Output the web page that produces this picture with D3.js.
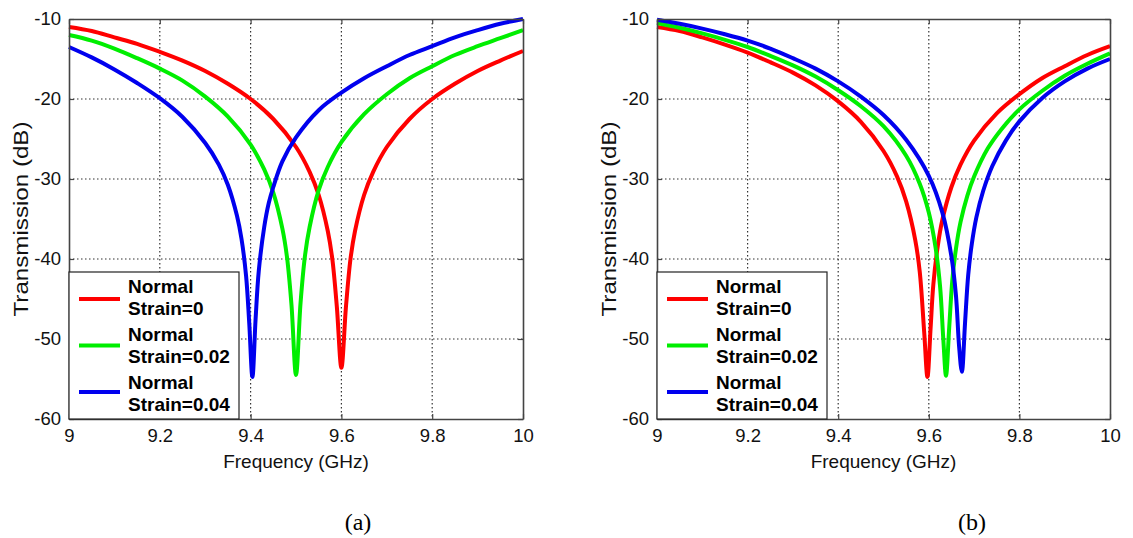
<!DOCTYPE html>
<html>
<head>
<meta charset="utf-8">
<script src="https://cdn.jsdelivr.net/npm/d3@7/dist/d3.min.js"></script>
<style>
  html, body { margin: 0; padding: 0; background: #fff; }
  svg { display: block; }
</style>
</head>
<body>
<svg id="chart" width="1133" height="538"></svg>
<script>
// ---------- data ----------
const xTicks = [9, 9.2, 9.4, 9.6, 9.8, 10];
const yTicks = [-10, -20, -30, -40, -50, -60];
const seriesNames = ["Normal\nStrain=0", "Normal\nStrain=0.02", "Normal\nStrain=0.04"];
const seriesColors = ["#ff0000", "#00ee00", "#0000ee"];
const panelLabels = ["(a)", "(b)"];

// panel (a)
const aRedF   = [9.0, 9.05, 9.1, 9.15, 9.2, 9.25, 9.3, 9.35, 9.4, 9.45, 9.5, 9.53, 9.55, 9.57, 9.58, 9.59, 9.6, 9.61, 9.62, 9.63, 9.65, 9.67, 9.7, 9.75, 9.8, 9.85, 9.9, 9.95, 10.0];
const aRedT   = [-11.0, -11.5, -12.3, -13.1, -14.1, -15.2, -16.5, -18.1, -20.0, -22.5, -26.0, -29.1, -32.0, -36.5, -40.0, -46.0, -53.6, -46.0, -40.0, -36.5, -32.0, -29.1, -26.0, -22.5, -20.0, -18.1, -16.5, -15.2, -14.0];
const aGreenF = [9.0, 9.05, 9.1, 9.15, 9.2, 9.25, 9.3, 9.35, 9.4, 9.43, 9.45, 9.47, 9.48, 9.49, 9.5, 9.51, 9.52, 9.53, 9.55, 9.57, 9.6, 9.65, 9.7, 9.75, 9.8, 9.85, 9.9, 9.95, 10.0];
const aGreenT = [-12.0, -12.7, -13.7, -14.9, -16.2, -17.7, -19.7, -22.2, -25.7, -28.8, -31.7, -36.2, -39.7, -45.7, -54.5, -45.5, -39.5, -36.0, -31.4, -28.5, -25.4, -21.9, -19.4, -17.4, -15.9, -14.5, -13.4, -12.4, -11.4];
const aBlueF  = [9.0, 9.05, 9.1, 9.15, 9.2, 9.25, 9.3, 9.33, 9.35, 9.37, 9.38, 9.39, 9.397, 9.404, 9.411, 9.418, 9.43, 9.44, 9.45, 9.47, 9.5, 9.55, 9.6, 9.65, 9.7, 9.75, 9.8, 9.85, 9.9, 9.95, 10.0];
const aBlueT  = [-13.5, -14.8, -16.3, -18.0, -19.9, -22.25, -25.5, -28.2, -30.75, -34.6, -37.5, -42.1, -48.0, -54.75, -47.5, -41.5, -36.0, -33.0, -31.0, -27.8, -24.8, -21.4, -19.2, -17.4, -15.9, -14.5, -13.4, -12.3, -11.4, -10.6, -10.0];

// panel (b)
const bRedF   = [9.0, 9.05, 9.1, 9.15, 9.2, 9.25, 9.3, 9.35, 9.4, 9.45, 9.5, 9.53, 9.55, 9.57, 9.58, 9.59, 9.597, 9.604, 9.61, 9.62, 9.63, 9.65, 9.67, 9.7, 9.75, 9.8, 9.85, 9.9, 9.95, 10.0];
const bRedT   = [-11.0, -11.5, -12.3, -13.2, -14.2, -15.4, -16.7, -18.3, -20.3, -22.85, -26.5, -29.7, -32.8, -37.6, -41.6, -49.3, -54.75, -48.6, -43.2, -38.3, -35.1, -31.0, -28.2, -25.2, -21.8, -19.4, -17.4, -15.9, -14.5, -13.4];
const bGreenF = [9.0, 9.05, 9.1, 9.15, 9.2, 9.25, 9.3, 9.35, 9.4, 9.45, 9.5, 9.55, 9.58, 9.6, 9.615, 9.625, 9.632, 9.638, 9.645, 9.652, 9.66, 9.67, 9.685, 9.7, 9.73, 9.76, 9.8, 9.85, 9.9, 9.95, 10.0];
const bGreenT = [-10.5, -11.1, -11.8, -12.6, -13.5, -14.6, -15.8, -17.2, -18.9, -20.9, -23.4, -27.1, -30.6, -34.2, -38.6, -43.5, -50.0, -54.6, -48.6, -42.6, -38.7, -35.4, -32.1, -29.7, -26.2, -23.8, -21.3, -19.0, -17.1, -15.6, -14.3];
const bBlueF  = [9.0, 9.05, 9.1, 9.15, 9.2, 9.25, 9.3, 9.35, 9.4, 9.45, 9.5, 9.55, 9.6, 9.63, 9.65, 9.66, 9.667, 9.673, 9.68, 9.687, 9.695, 9.705, 9.72, 9.74, 9.77, 9.8, 9.85, 9.9, 9.95, 10.0];
const bBlueT  = [-10.1, -10.6, -11.2, -11.9, -12.7, -13.7, -14.9, -16.2, -17.8, -19.7, -22.0, -25.1, -29.6, -34.2, -39.7, -44.6, -51.0, -54.1, -48.0, -42.0, -38.1, -34.8, -31.5, -28.4, -25.2, -22.8, -19.9, -17.8, -16.2, -15.0];

const panels = [
  { left: 69, right: 523, label: panelLabels[0], labelX: 358,
    series: [[aRedF, aRedT], [aGreenF, aGreenT], [aBlueF, aBlueT]] },
  { left: 657, right: 1110, label: panelLabels[1], labelX: 972,
    series: [[bRedF, bRedT], [bGreenF, bGreenT], [bBlueF, bBlueT]] }
];

const plotTop = 19, plotBottom = 419;
const fmt = d => String(d);   // plain hyphen-minus like the original
const svg = d3.select("#chart");
svg.append("rect").attr("width", 1133).attr("height", 538).attr("fill", "#fff");

panels.forEach((p, pi) => {
  const x = d3.scaleLinear().domain([9, 10]).range([p.left, p.right]);
  const y = d3.scaleLinear().domain([-60, -10]).range([plotBottom, plotTop]);
  const g = svg.append("g");

  // grid (dotted)
  const grid = g.append("g").attr("stroke", "#333").attr("stroke-width", 1.2)
    .attr("stroke-dasharray", "1.5,2.5");
  grid.selectAll(".gx").data(xTicks.slice(1, -1)).join("line")
    .attr("x1", d => x(d)).attr("x2", d => x(d)).attr("y1", plotTop).attr("y2", plotBottom);
  grid.selectAll(".gy").data(yTicks.slice(1, -1)).join("line")
    .attr("x1", p.left).attr("x2", p.right).attr("y1", d => y(d)).attr("y2", d => y(d));

  // curves
  const line = d3.line().x(d => x(d[0])).y(d => y(d[1])).curve(d3.curveCatmullRom.alpha(0.5));
  p.series.forEach((s, i) => {
    const pts = s[0].map((f, k) => [f, s[1][k]]);
    g.append("path").datum(pts).attr("d", line)
      .attr("fill", "none").attr("stroke", seriesColors[i]).attr("stroke-width", 4)
      .attr("stroke-linejoin", "round");
  });

  // axes (MATLAB style box with inward ticks)
  const axB = g.append("g").attr("transform", `translate(0,${plotBottom})`)
    .call(d3.axisBottom(x).tickValues(xTicks).tickSizeInner(-5).tickSizeOuter(0).tickFormat(fmt).tickPadding(10));
  const axL = g.append("g").attr("transform", `translate(${p.left},0)`)
    .call(d3.axisLeft(y).tickValues(yTicks).tickSizeInner(-5).tickSizeOuter(0).tickFormat(fmt).tickPadding(8));
  const axT = g.append("g").attr("transform", `translate(0,${plotTop})`)
    .call(d3.axisTop(x).tickValues(xTicks).tickSizeInner(-5).tickSizeOuter(0).tickFormat(""));
  const axR = g.append("g").attr("transform", `translate(${p.right},0)`)
    .call(d3.axisRight(y).tickValues(yTicks).tickSizeInner(-5).tickSizeOuter(0).tickFormat(""));
  [axB, axL, axT, axR].forEach(a => {
    a.select(".domain").attr("stroke", "#444").attr("stroke-width", 1.6);
    a.selectAll(".tick line").attr("stroke", "#444").attr("stroke-width", 1.2);
    a.selectAll("text").attr("font-family", "Liberation Sans, Arial, sans-serif")
      .attr("font-size", 18.5).attr("fill", "#111");
  });
  axB.selectAll("text").attr("dy", "0.71em");

  // axis titles
  g.append("text").attr("x", (p.left + p.right) / 2).attr("y", 468)
    .attr("text-anchor", "middle").attr("font-family", "Liberation Sans, Arial, sans-serif")
    .attr("font-size", 19).attr("fill", "#111").text("Frequency (GHz)");
  const ylx = p.left - 41;
  g.append("text").attr("transform", `translate(${ylx},${(plotTop + plotBottom) / 2}) rotate(-90)`)
    .attr("text-anchor", "middle").attr("font-family", "Liberation Sans, Arial, sans-serif")
    .attr("font-size", 21).attr("fill", "#111")
    .attr("textLength", 195).attr("lengthAdjust", "spacingAndGlyphs")
    .text("Transmission (dB)");

  // legend
  const lg = g.append("g");
  lg.append("rect").attr("x", p.left).attr("y", 272).attr("width", 170).attr("height", plotBottom - 272)
    .attr("fill", "#fff").attr("stroke", "#222").attr("stroke-width", 1.2);
  seriesNames.forEach((name, i) => {
    const ly = 299 + i * 46.5;
    lg.append("line").attr("x1", p.left + 10).attr("x2", p.left + 51)
      .attr("y1", ly).attr("y2", ly).attr("stroke", seriesColors[i]).attr("stroke-width", 4);
    const parts = name.split("\n");
    const t = lg.append("text").attr("font-family", "Liberation Sans, Arial, sans-serif")
      .attr("font-weight", "bold").attr("font-size", 19).attr("fill", "#000");
    parts.forEach((s, k) => {
      t.append("tspan").attr("x", p.left + 59).attr("y", 293 + i * 48 + k * 22).text(s);
    });
  });

  // panel caption
  svg.append("text").attr("x", p.labelX).attr("y", 530).attr("text-anchor", "middle")
    .attr("font-family", "Liberation Serif, Times New Roman, serif")
    .attr("font-size", 24).attr("fill", "#000").text(p.label);
});
</script>
</body>
</html>
